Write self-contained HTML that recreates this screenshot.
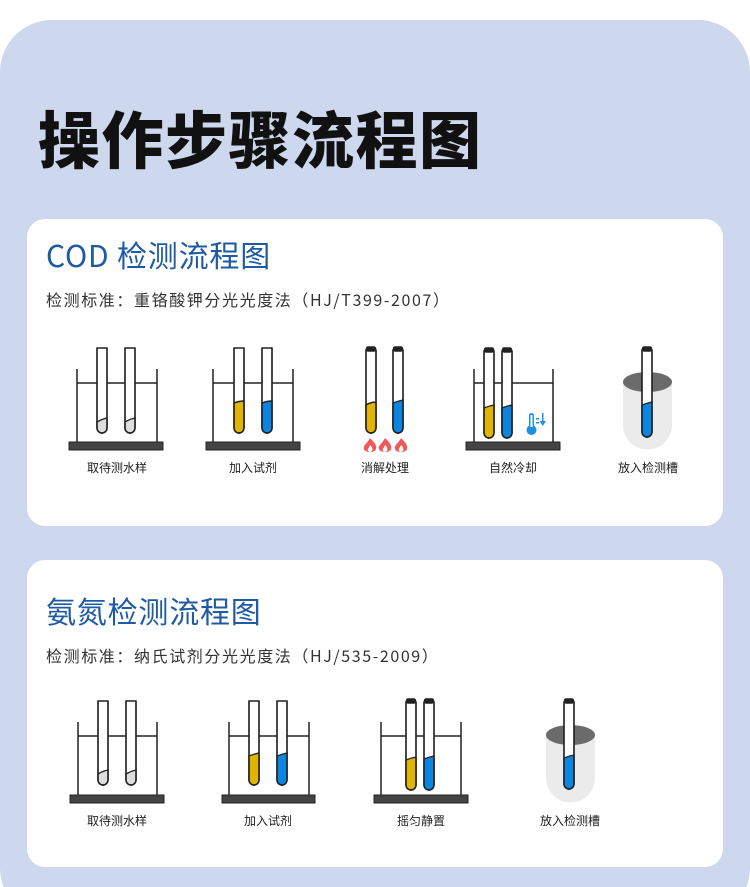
<!DOCTYPE html>
<html><head><meta charset="utf-8"><style>
html,body{margin:0;padding:0;background:#fff;}
svg{display:block;}
text{font-family:"Noto Sans CJK SC",sans-serif;}
</style></head><body>
<svg width="750" height="887" viewBox="0 0 750 887" xmlns="http://www.w3.org/2000/svg">
<defs>
<g id="flame">
<path d="M0,-8 C4,-4 7,-1 6,3 C5,7 -5,7 -6,3 C-7,-1 -3,-2 0,-8Z" fill="#f0595b"/>
<path d="M0,-1 C2,1 3,3 2,5 C1,6 -1,6 -2,5 C-3,3 -1,2 0,-1Z" fill="#fff"/>
</g>
</defs>
<rect x="0" y="20" width="750" height="900" rx="52" fill="#cdd7ed"/>
<text x="38" y="163" font-size="62" font-weight="900" fill="#111" letter-spacing="1.5">操作步骤流程图</text>

<rect x="27" y="219" width="696" height="307" rx="18" fill="#fff"/>
<rect x="27" y="560" width="696" height="307" rx="18" fill="#fff"/>

<text x="46" y="267" font-size="30" fill="#1f5aa3" letter-spacing="0.8">COD 检测流程图</text>
<text x="46" y="306" font-size="16" fill="#333" letter-spacing="1.6">检测标准：重铬酸钾分光光度法（HJ/T399-2007）</text>
<text x="46" y="623" font-size="30" fill="#1f5aa3" letter-spacing="0.8">氨氮检测流程图</text>
<text x="46" y="662" font-size="16" fill="#333" letter-spacing="1.6">检测标准：纳氏试剂分光光度法（HJ/535-2009）</text>

<g font-size="12" fill="#222" text-anchor="middle">
<text x="117" y="472">取待测水样</text>
<text x="253" y="472">加入试剂</text>
<text x="385" y="472">消解处理</text>
<text x="513" y="472">自然冷却</text>
<text x="648" y="472">放入检测槽</text>
<text x="117" y="825">取待测水样</text>
<text x="268" y="825">加入试剂</text>
<text x="421" y="825">摇匀静置</text>
<text x="570" y="825">放入检测槽</text>
</g>

<g stroke="#222" stroke-width="1.5" fill="none">
<path d="M77,369V442M157,369V442M77,383H157"/>
<path d="M213,369V442M293,369V442M213,383H293"/>
<path d="M474,369V442M553,369V442M474,383H553"/>
<path d="M78,722V795M157,722V795M78,736H157"/>
<path d="M229,722V795M309,722V795M229,736H309"/>
<path d="M381,722V795M461,722V795M381,736H461"/>
</g>
<g fill="#444" stroke="#222" stroke-width="1">
<rect x="69" y="442" width="94" height="8"/>
<rect x="206" y="442" width="94" height="8"/>
<rect x="466" y="442" width="94" height="8"/>
<rect x="70" y="795" width="94" height="8"/>
<rect x="222" y="795" width="93" height="8"/>
<rect x="374" y="795" width="94" height="8"/>
</g>

<g>
<path d="M623,382 V425 A24.5,24.5 0 0 0 672,425 V382Z" fill="#ebebeb"/>
<ellipse cx="647.5" cy="382" rx="24.5" ry="10" fill="#6b6b6b"/>
<path d="M546,735 V778 A24.5,24.5 0 0 0 595,778 V735Z" fill="#ebebeb"/>
<ellipse cx="570.5" cy="735" rx="24.5" ry="10" fill="#6b6b6b"/>
</g>

<g stroke="#222" stroke-width="1.4">
<g transform="translate(97,348)"><path d="M0,0V80A5,5 0 0 0 10,80V0Z" fill="#fff"/><path d="M0,74Q5,71 10,70V80A5,5 0 0 1 0,80Z" fill="#dddddd"/><path d="M0,0V80A5,5 0 0 0 10,80V0" fill="none"/></g>
<g transform="translate(125,348)"><path d="M0,0V80A5,5 0 0 0 10,80V0Z" fill="#fff"/><path d="M0,74Q5,71 10,70V80A5,5 0 0 1 0,80Z" fill="#dddddd"/><path d="M0,0V80A5,5 0 0 0 10,80V0" fill="none"/></g>
<g transform="translate(234,348)"><path d="M0,0V80A5,5 0 0 0 10,80V0Z" fill="#fff"/><path d="M0,55Q5,53 10,53V80A5,5 0 0 1 0,80Z" fill="#e0b400"/><path d="M0,0V80A5,5 0 0 0 10,80V0" fill="none"/></g>
<g transform="translate(262,348)"><path d="M0,0V80A5,5 0 0 0 10,80V0Z" fill="#fff"/><path d="M0,55Q5,53 10,53V80A5,5 0 0 1 0,80Z" fill="#0a86e0"/><path d="M0,0V80A5,5 0 0 0 10,80V0" fill="none"/></g>
<g transform="translate(366,350)"><path d="M0,0V78A5,5 0 0 0 10,78V0Z" fill="#fff"/><path d="M0,55Q5,52 10,52V78A5,5 0 0 1 0,78Z" fill="#e0b400"/><path d="M0,0V78A5,5 0 0 0 10,78V0" fill="none"/><rect x="0.5" y="-3" width="9" height="4" rx="1.5" fill="#222"/></g>
<g transform="translate(393,350)"><path d="M0,0V78A5,5 0 0 0 10,78V0Z" fill="#fff"/><path d="M0,53Q5,51 10,50V78A5,5 0 0 1 0,78Z" fill="#0a86e0"/><path d="M0,0V78A5,5 0 0 0 10,78V0" fill="none"/><rect x="0.5" y="-3" width="9" height="4" rx="1.5" fill="#222"/></g>
<g transform="translate(484,351)"><path d="M0,0V82A5,5 0 0 0 10,82V0Z" fill="#fff"/><path d="M0,57Q5,55 10,54V82A5,5 0 0 1 0,82Z" fill="#e0b400"/><path d="M0,0V82A5,5 0 0 0 10,82V0" fill="none"/><rect x="0.5" y="-3" width="9" height="4" rx="1.5" fill="#222"/></g>
<g transform="translate(502,351)"><path d="M0,0V82A5,5 0 0 0 10,82V0Z" fill="#fff"/><path d="M0,57Q5,55 10,54V82A5,5 0 0 1 0,82Z" fill="#0a86e0"/><path d="M0,0V82A5,5 0 0 0 10,82V0" fill="none"/><rect x="0.5" y="-3" width="9" height="4" rx="1.5" fill="#222"/></g>
<g transform="translate(642,350)"><path d="M0,0V82A5,5 0 0 0 10,82V0Z" fill="#fff"/><path d="M0,55Q5,53 10,52V82A5,5 0 0 1 0,82Z" fill="#0a86e0"/><path d="M0,0V82A5,5 0 0 0 10,82V0" fill="none"/><rect x="0.5" y="-3" width="9" height="4" rx="1.5" fill="#222"/></g>

<g transform="translate(98,701)"><path d="M0,0V79A5,5 0 0 0 10,79V0Z" fill="#fff"/><path d="M0,73Q5,70 10,69V79A5,5 0 0 1 0,79Z" fill="#dddddd"/><path d="M0,0V79A5,5 0 0 0 10,79V0" fill="none"/></g>
<g transform="translate(126,701)"><path d="M0,0V79A5,5 0 0 0 10,79V0Z" fill="#fff"/><path d="M0,73Q5,70 10,69V79A5,5 0 0 1 0,79Z" fill="#dddddd"/><path d="M0,0V79A5,5 0 0 0 10,79V0" fill="none"/></g>
<g transform="translate(249,701)"><path d="M0,0V79A5,5 0 0 0 10,79V0Z" fill="#fff"/><path d="M0,55Q5,53 10,52V79A5,5 0 0 1 0,79Z" fill="#e0b400"/><path d="M0,0V79A5,5 0 0 0 10,79V0" fill="none"/></g>
<g transform="translate(277,701)"><path d="M0,0V79A5,5 0 0 0 10,79V0Z" fill="#fff"/><path d="M0,55Q5,53 10,52V79A5,5 0 0 1 0,79Z" fill="#0a86e0"/><path d="M0,0V79A5,5 0 0 0 10,79V0" fill="none"/></g>
<g transform="translate(406,702)"><path d="M0,0V83A5,5 0 0 0 10,83V0Z" fill="#fff"/><path d="M0,58Q5,56 10,55V83A5,5 0 0 1 0,83Z" fill="#e0b400"/><path d="M0,0V83A5,5 0 0 0 10,83V0" fill="none"/><rect x="0.5" y="-3" width="9" height="4" rx="1.5" fill="#222"/></g>
<g transform="translate(424,702)"><path d="M0,0V83A5,5 0 0 0 10,83V0Z" fill="#fff"/><path d="M0,57Q5,55 10,54V83A5,5 0 0 1 0,83Z" fill="#0a86e0"/><path d="M0,0V83A5,5 0 0 0 10,83V0" fill="none"/><rect x="0.5" y="-3" width="9" height="4" rx="1.5" fill="#222"/></g>
<g transform="translate(564,702)"><path d="M0,0V82A5,5 0 0 0 10,82V0Z" fill="#fff"/><path d="M0,56Q5,54 10,53V82A5,5 0 0 1 0,82Z" fill="#0a86e0"/><path d="M0,0V82A5,5 0 0 0 10,82V0" fill="none"/><rect x="0.5" y="-3" width="9" height="4" rx="1.5" fill="#222"/></g>
</g>

<use href="#flame" transform="translate(370,446)"/>
<use href="#flame" transform="translate(385,446)"/>
<use href="#flame" transform="translate(401,446)"/>

<g fill="#1e90e0">
<rect x="529" y="413" width="5" height="14" rx="2.5"/>
<circle cx="531.5" cy="430" r="5"/>
<rect x="536" y="418" width="3" height="1.5"/>
<rect x="536" y="422" width="3" height="1.5"/>
<rect x="542" y="413" width="1.5" height="10"/>
<path d="M539.5,421 L542.75,426 L546,421Z"/>
</g>
<rect x="530.5" y="415" width="2" height="12" fill="#fff"/>
</svg>
</body></html>
